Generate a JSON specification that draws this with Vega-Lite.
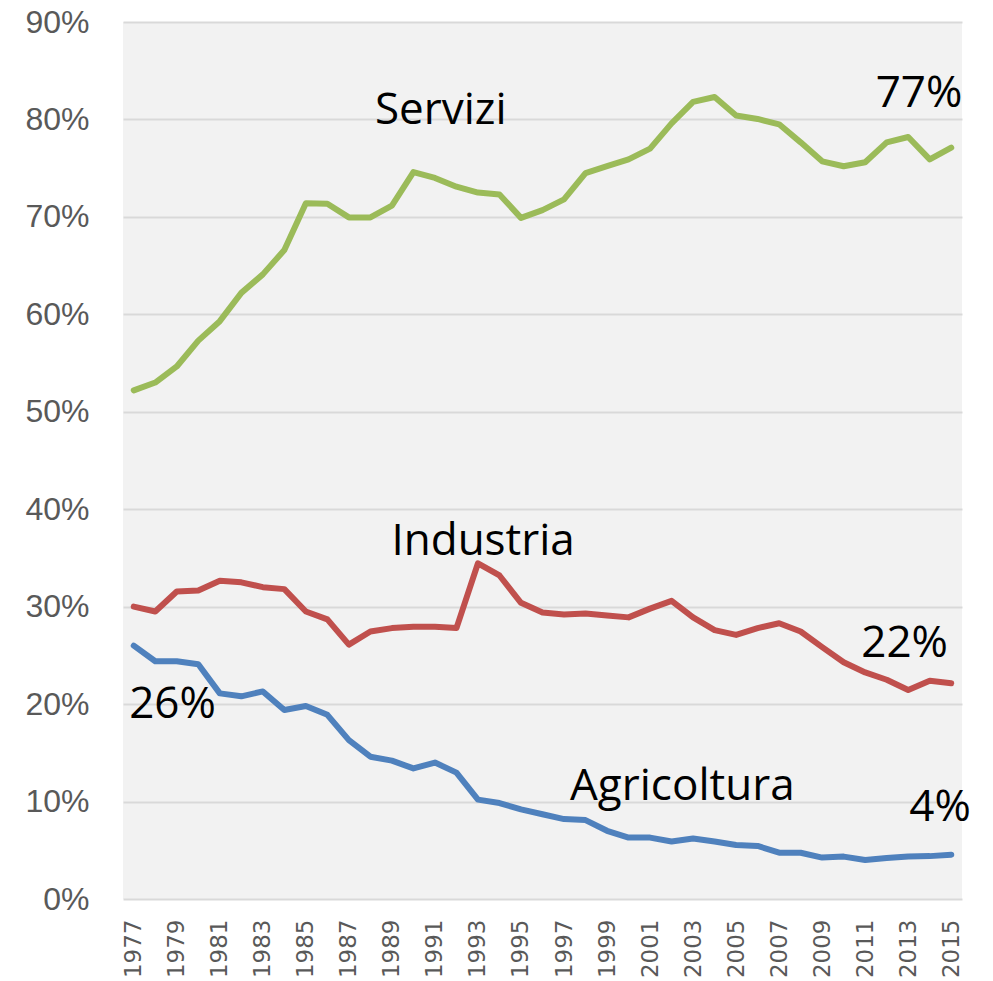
{
  "$schema": "https://vega.github.io/schema/vega-lite/v6.json",
  "width": 839,
  "height": 877,
  "autosize": "none",
  "padding": {"left": 123, "top": 22, "right": 31, "bottom": 82},
  "background": "white",
  "config": {"view": {"fill": "#f2f2f2", "stroke": null}},
  "datasets": {
    "series": [
      {"year":1977,"sector":"Servizi","value":52.2},{"year":1978,"sector":"Servizi","value":53.0},{"year":1979,"sector":"Servizi","value":54.65},{"year":1980,"sector":"Servizi","value":57.3},{"year":1981,"sector":"Servizi","value":59.3},{"year":1982,"sector":"Servizi","value":62.2},{"year":1983,"sector":"Servizi","value":64.1},{"year":1984,"sector":"Servizi","value":66.6},{"year":1985,"sector":"Servizi","value":71.4},{"year":1986,"sector":"Servizi","value":71.35},{"year":1987,"sector":"Servizi","value":69.95},{"year":1988,"sector":"Servizi","value":69.95},{"year":1989,"sector":"Servizi","value":71.15},{"year":1990,"sector":"Servizi","value":74.6},{"year":1991,"sector":"Servizi","value":74.0},{"year":1992,"sector":"Servizi","value":73.1},{"year":1993,"sector":"Servizi","value":72.5},{"year":1994,"sector":"Servizi","value":72.3},{"year":1995,"sector":"Servizi","value":69.9},{"year":1996,"sector":"Servizi","value":70.7},{"year":1997,"sector":"Servizi","value":71.8},{"year":1998,"sector":"Servizi","value":74.5},{"year":1999,"sector":"Servizi","value":75.2},{"year":2000,"sector":"Servizi","value":75.9},{"year":2001,"sector":"Servizi","value":77.0},{"year":2002,"sector":"Servizi","value":79.6},{"year":2003,"sector":"Servizi","value":81.8},{"year":2004,"sector":"Servizi","value":82.3},{"year":2005,"sector":"Servizi","value":80.4},{"year":2006,"sector":"Servizi","value":80.05},{"year":2007,"sector":"Servizi","value":79.5},{"year":2008,"sector":"Servizi","value":77.65},{"year":2009,"sector":"Servizi","value":75.7},{"year":2010,"sector":"Servizi","value":75.2},{"year":2011,"sector":"Servizi","value":75.6},{"year":2012,"sector":"Servizi","value":77.65},{"year":2013,"sector":"Servizi","value":78.2},{"year":2014,"sector":"Servizi","value":75.9},{"year":2015,"sector":"Servizi","value":77.1},
      {"year":1977,"sector":"Industria","value":30.0},{"year":1978,"sector":"Industria","value":29.5},{"year":1979,"sector":"Industria","value":31.55},{"year":1980,"sector":"Industria","value":31.65},{"year":1981,"sector":"Industria","value":32.65},{"year":1982,"sector":"Industria","value":32.5},{"year":1983,"sector":"Industria","value":32.0},{"year":1984,"sector":"Industria","value":31.8},{"year":1985,"sector":"Industria","value":29.5},{"year":1986,"sector":"Industria","value":28.7},{"year":1987,"sector":"Industria","value":26.1},{"year":1988,"sector":"Industria","value":27.45},{"year":1989,"sector":"Industria","value":27.8},{"year":1990,"sector":"Industria","value":27.95},{"year":1991,"sector":"Industria","value":27.95},{"year":1992,"sector":"Industria","value":27.8},{"year":1993,"sector":"Industria","value":34.45},{"year":1994,"sector":"Industria","value":33.2},{"year":1995,"sector":"Industria","value":30.4},{"year":1996,"sector":"Industria","value":29.4},{"year":1997,"sector":"Industria","value":29.2},{"year":1998,"sector":"Industria","value":29.3},{"year":1999,"sector":"Industria","value":29.1},{"year":2000,"sector":"Industria","value":28.9},{"year":2001,"sector":"Industria","value":29.8},{"year":2002,"sector":"Industria","value":30.6},{"year":2003,"sector":"Industria","value":28.9},{"year":2004,"sector":"Industria","value":27.6},{"year":2005,"sector":"Industria","value":27.1},{"year":2006,"sector":"Industria","value":27.8},{"year":2007,"sector":"Industria","value":28.3},{"year":2008,"sector":"Industria","value":27.45},{"year":2009,"sector":"Industria","value":25.85},{"year":2010,"sector":"Industria","value":24.3},{"year":2011,"sector":"Industria","value":23.25},{"year":2012,"sector":"Industria","value":22.5},{"year":2013,"sector":"Industria","value":21.45},{"year":2014,"sector":"Industria","value":22.4},{"year":2015,"sector":"Industria","value":22.15},
      {"year":1977,"sector":"Agricoltura","value":26.0},{"year":1978,"sector":"Agricoltura","value":24.4},{"year":1979,"sector":"Agricoltura","value":24.4},{"year":1980,"sector":"Agricoltura","value":24.1},{"year":1981,"sector":"Agricoltura","value":21.1},{"year":1982,"sector":"Agricoltura","value":20.8},{"year":1983,"sector":"Agricoltura","value":21.3},{"year":1984,"sector":"Agricoltura","value":19.4},{"year":1985,"sector":"Agricoltura","value":19.8},{"year":1986,"sector":"Agricoltura","value":18.9},{"year":1987,"sector":"Agricoltura","value":16.3},{"year":1988,"sector":"Agricoltura","value":14.6},{"year":1989,"sector":"Agricoltura","value":14.2},{"year":1990,"sector":"Agricoltura","value":13.4},{"year":1991,"sector":"Agricoltura","value":14.0},{"year":1992,"sector":"Agricoltura","value":12.97},{"year":1993,"sector":"Agricoltura","value":10.2},{"year":1994,"sector":"Agricoltura","value":9.85},{"year":1995,"sector":"Agricoltura","value":9.2},{"year":1996,"sector":"Agricoltura","value":8.7},{"year":1997,"sector":"Agricoltura","value":8.2},{"year":1998,"sector":"Agricoltura","value":8.1},{"year":1999,"sector":"Agricoltura","value":7.0},{"year":2000,"sector":"Agricoltura","value":6.3},{"year":2001,"sector":"Agricoltura","value":6.3},{"year":2002,"sector":"Agricoltura","value":5.9},{"year":2003,"sector":"Agricoltura","value":6.2},{"year":2004,"sector":"Agricoltura","value":5.9},{"year":2005,"sector":"Agricoltura","value":5.55},{"year":2006,"sector":"Agricoltura","value":5.45},{"year":2007,"sector":"Agricoltura","value":4.75},{"year":2008,"sector":"Agricoltura","value":4.75},{"year":2009,"sector":"Agricoltura","value":4.25},{"year":2010,"sector":"Agricoltura","value":4.35},{"year":2011,"sector":"Agricoltura","value":4.0},{"year":2012,"sector":"Agricoltura","value":4.2},{"year":2013,"sector":"Agricoltura","value":4.35},{"year":2014,"sector":"Agricoltura","value":4.4},{"year":2015,"sector":"Agricoltura","value":4.55}
    ],
    "labels": [
      {"year":1991.27,"value":79.5,"label":"Servizi"},
      {"year":2013.5,"value":81.3,"label":"77%"},
      {"year":1993.24,"value":35.3,"label":"Industria"},
      {"year":2012.83,"value":24.85,"label":"22%"},
      {"year":1978.8,"value":18.58,"label":"26%"},
      {"year":2002.5,"value":10.16,"label":"Agricoltura"},
      {"year":2014.48,"value":7.96,"label":"4%"}
    ]
  },
  "encoding": {
    "x": {
      "field": "year", "type": "quantitative",
      "scale": {"domain": [1976.5, 2015.5], "nice": false, "zero": false},
      "axis": {
        "title": null, "values": [1977,1979,1981,1983,1985,1987,1989,1991,1993,1995,1997,1999,2001,2003,2005,2007,2009,2011,2013,2015],
        "format": "d", "labelAngle": -90, "labelAlign": "right", "labelBaseline": "middle",
        "grid": false, "ticks": false, "domain": false,
        "labelFont": "DejaVu Sans", "labelFontSize": 23, "labelColor": "#595959", "labelPadding": 20
      }
    },
    "y": {
      "field": "value", "type": "quantitative",
      "scale": {"domain": [0, 90], "nice": false},
      "axis": {
        "title": null, "values": [0,10,20,30,40,50,60,70,80,90],
        "labelExpr": "datum.value + '%'",
        "grid": true, "gridColor": "#d9d9d9", "gridWidth": 2,
        "ticks": false, "domain": false,
        "labelFont": "Liberation Sans", "labelFontSize": 32, "labelColor": "#595959", "labelPadding": 34
      }
    }
  },
  "layer": [
    {
      "data": {"name": "series"},
      "mark": {"type": "line", "strokeWidth": 6, "strokeCap": "round", "strokeJoin": "round"},
      "encoding": {
        "color": {
          "field": "sector", "type": "nominal",
          "scale": {"domain": ["Servizi", "Industria", "Agricoltura"], "range": ["#9bbb59", "#c0504d", "#4f81bd"]},
          "legend": null
        }
      }
    },
    {
      "data": {"name": "labels"},
      "mark": {"type": "text", "font": "Open Sans", "fontSize": 44, "align": "center", "baseline": "alphabetic", "color": "#000000"},
      "encoding": {"text": {"field": "label", "type": "nominal"}}
    }
  ]
}
